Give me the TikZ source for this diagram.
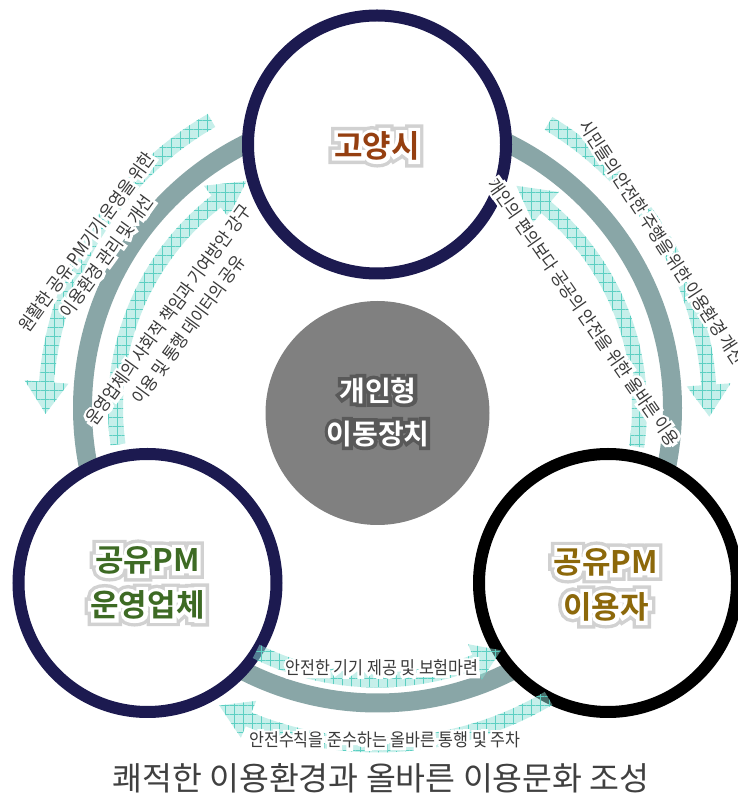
\documentclass[tikz,border=0pt]{standalone}
\usepackage{fontspec}
\setmainfont{Noto Sans CJK KR}
% label faces: plain and a stroked copy used as a white halo
\newfontfamily\lblFont{Noto Sans CJK KR}[FakeStretch=0.9]
\newfontfamily\lblHaloFont{Noto Sans CJK KR}[FakeStretch=0.9, FakeBold=30]
% name faces: bold, plus stroked copies for outline and glow
\newfontfamily\nameFont{Noto Sans CJK KR}[UprightFont=* Bold]
\newfontfamily\nameRimFont{Noto Sans CJK KR}[UprightFont=* Bold, FakeBold=24]
\newfontfamily\nameGlowFont{Noto Sans CJK KR}[UprightFont=* Bold, FakeBold=46]
\newfontfamily\hubRimFont{Noto Sans CJK KR}[UprightFont=* Bold, FakeBold=26]
\usetikzlibrary{patterns.meta}

\definecolor{navy}{HTML}{1C1A50}
\definecolor{ringgray}{HTML}{89A6A7}
\definecolor{hubgray}{HTML}{808080}
\definecolor{arrowfill}{HTML}{8EE0D6}
\definecolor{arrowgrid}{HTML}{5CCFC2}
\definecolor{labeltext}{HTML}{3A3A3A}
\definecolor{titlegray}{HTML}{404040}
\definecolor{citybrown}{HTML}{953F10}
\definecolor{opgreen}{HTML}{3D6A24}
\definecolor{usergold}{HTML}{8C680A}

% curved flow arrow around the ring centre:
% #1 radius, #2 tail angle, #3 head base angle, #4 tip angle, #5 half head width
\newcommand{\flowarrow}[5]{%
  \path[flowshape]
    (#2:#1+7.5) arc[start angle=#2, end angle=#3, radius=#1+7.5]
    -- (#3:#1+#5) -- (#4:#1) -- (#3:#1-#5)
    -- (#3:#1-7.5) arc[start angle=#3, end angle=#2, radius=#1-7.5]
    -- cycle;}

\begin{document}
\begin{tikzpicture}[x=1pt,y=1pt,
  ringline/.style={draw=ringgray, line width=19pt},
  actor/.style={circle, fill=white, line width=12pt, minimum size=258pt, inner sep=0pt},
  flowshape/.style={preaction={fill=arrowfill, fill opacity=0.5},
    pattern={Hatch[angle=0, distance=9pt, line width=0.45pt]},
    pattern color=arrowgrid, fill opacity=0.35},
  lbl/.style={font=\lblFont\fontsize{18pt}{25pt}\selectfont, text=labeltext, align=center, inner sep=0pt},
  lblhalo/.style={font=\lblHaloFont\fontsize{18pt}{25pt}\selectfont, text=white, align=center, inner sep=0pt},
  namebase/.style={align=center, inner sep=0pt},
  nameglow/.style={namebase, font=\nameGlowFont\fontsize{31pt}{45pt}\selectfont, text=black!18},
  namerim/.style={namebase, font=\nameRimFont\fontsize{31pt}{45pt}\selectfont, text=white},
  nametext/.style={namebase, font=\nameFont\fontsize{31pt}{45pt}\selectfont},
]
\useasboundingbox (0,0) rectangle (738,804);
\fill[white] (0,0) rectangle (738,804);

\coordinate (O) at (377.5,396);

% connecting ring behind the three actors
\draw[ringline] (O) circle[radius=295];

% hub
\node[circle, fill=hubgray, minimum size=224pt, inner sep=0pt] (hub) at (377.5,391) {};

% actors
\node[actor, draw=navy]  (city)  at (377,659.5) {};
\node[actor, draw=navy]  (oper)  at (147.5,221) {};
\node[actor, draw=black] (user)  at (608,221) {};

% flow arrows
\begin{scope}[shift={(O)}]
  \flowarrow{332}{120}{175.5}{181}{22}
  \flowarrow{262}{188}{128}{120}{20}
  \flowarrow{332}{59}{4}{-1.5}{22}
  \flowarrow{262}{-8.5}{50}{58}{20}
  \flowarrow{272}{243.5}{291}{297}{19}
  \flowarrow{337}{300.5}{247.5}{242}{20}
\end{scope}

% flow labels (halo first, text on top)
\node[lblhalo, rotate=54] (cityToOperHalo) at (96.5,555)
  {원활한 공유 PM기기 운영을 위한\\이용환경 관리 및 개선};
\node[lbl, rotate=54] (cityToOper) at (96.5,555)
  {원활한 공유 PM기기 운영을 위한\\이용환경 관리 및 개선};
\node[lblhalo, rotate=54] (operToCityHalo) at (178.5,482)
  {운영업체의 사회적 책임과 기여방안 강구\\이용 및 통행 데이터의 공유};
\node[lbl, rotate=54] (operToCity) at (178.5,482)
  {운영업체의 사회적 책임과 기여방안 강구\\이용 및 통행 데이터의 공유};
\node[lblhalo, rotate=-57] (cityToUserHalo) at (662,562)
  {시민들의 안전한 주행을 위한 이용환경 개선};
\node[lbl, rotate=-57] (cityToUser) at (662,562)
  {시민들의 안전한 주행을 위한 이용환경 개선};
\node[lblhalo, rotate=-55.3] (userToCityHalo) at (583.5,492)
  {개인의 편의보다 공공의 안전을 위한 올바른 이용};
\node[lbl, rotate=-55.3] (userToCity) at (583.5,492)
  {개인의 편의보다 공공의 안전을 위한 올바른 이용};
\node[lblhalo] (operToUserHalo) at (382,136) {안전한 기기 제공 및 보험마련};
\node[lbl] (operToUser) at (382,136) {안전한 기기 제공 및 보험마련};
\node[lblhalo] (userToOperHalo) at (385,64) {안전수칙을 준수하는 올바른 통행 및 주차};
\node[lbl] (userToOper) at (385,64) {안전수칙을 준수하는 올바른 통행 및 주차};

% actor names: soft grey glow, white rim, coloured text
\node[nameglow] (cityGlow) at (377,658) {고양시};
\node[namerim]  (cityRim)  at (377,658) {고양시};
\node[nametext, text=citybrown] (cityName) at (377,658) {고양시};

\node[nameglow] (operGlow) at (147.5,221) {공유PM\\운영업체};
\node[namerim]  (operRim)  at (147.5,221) {공유PM\\운영업체};
\node[nametext, text=opgreen] (operName) at (147.5,221) {공유PM\\운영업체};

\node[nameglow] (userGlow) at (606,219) {공유PM\\이용자};
\node[namerim]  (userRim)  at (606,219) {공유PM\\이용자};
\node[nametext, text=usergold] (userName) at (606,219) {공유PM\\이용자};

% hub name: white letters with a dark rim
\node[font=\hubRimFont\fontsize{28pt}{43pt}\selectfont, align=center, inner sep=0pt, text=black!65] (hubRim) at (378,392)
  {개인형\\이동장치};
\node[font=\nameFont\fontsize{28pt}{43pt}\selectfont, align=center, inner sep=0pt, text=white] (hubName) at (378,392)
  {개인형\\이동장치};

% slogan
\node[font=\fontsize{32.5pt}{38pt}\selectfont, text=titlegray, inner sep=0pt] (slogan) at (381,26)
  {쾌적한 이용환경과 올바른 이용문화 조성};
\end{tikzpicture}
\end{document}
